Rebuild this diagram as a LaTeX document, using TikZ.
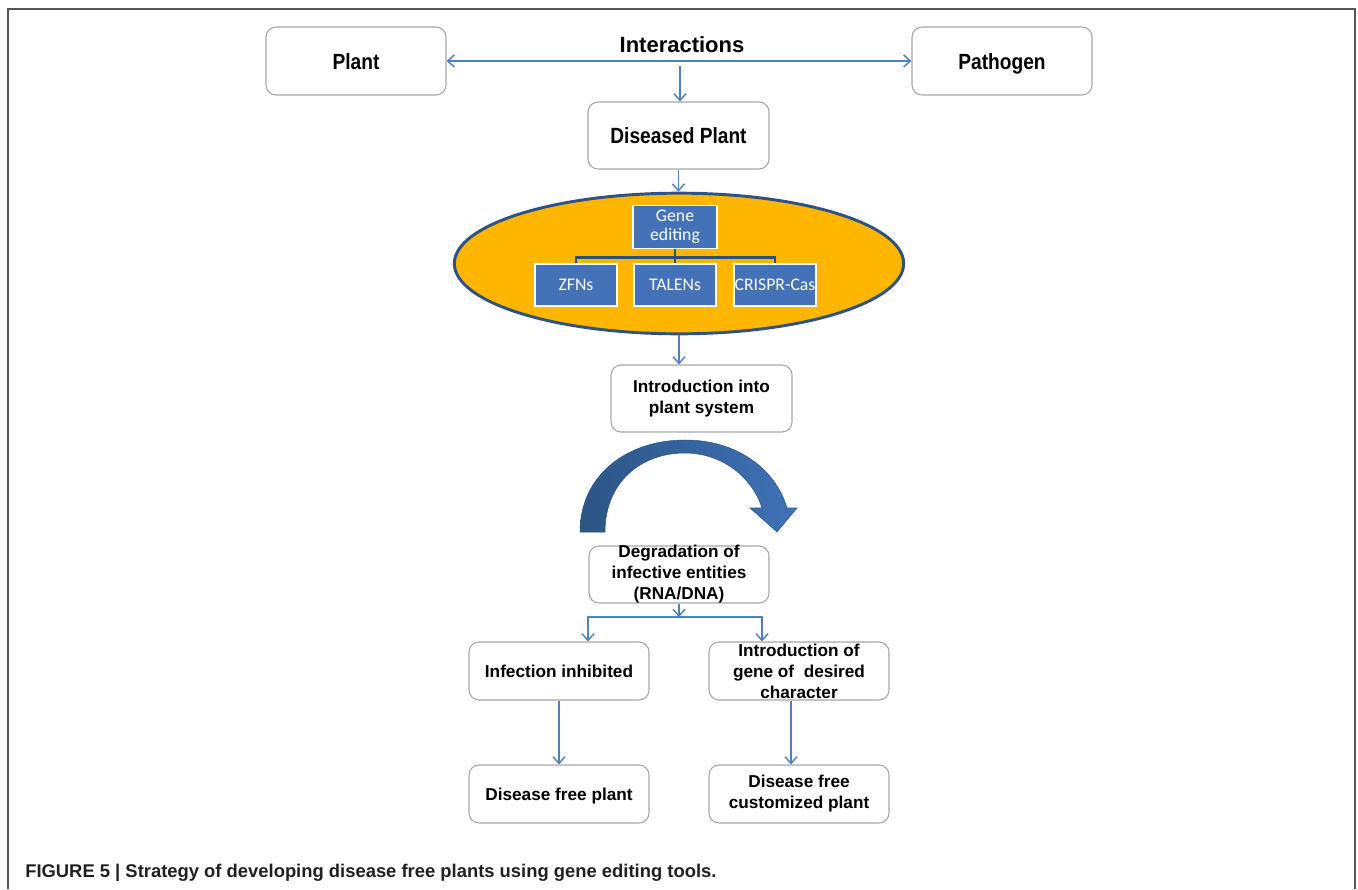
\documentclass[tikz,border=0pt]{standalone}
\usepackage{fontspec}
\setmainfont{Liberation Sans}
\newfontfamily\narrowfont[FakeStretch=0.87]{Liberation Sans}
\newfontfamily\calfont{Carlito}
\usetikzlibrary{arrows.meta,shapes.geometric}
\definecolor{conncol}{HTML}{4F81BD}
\definecolor{boxgray}{HTML}{A6A6A6}
\definecolor{ellfill}{HTML}{FFB600}
\definecolor{elldraw}{HTML}{2E5283}
\definecolor{bluebox}{HTML}{4472B8}
\definecolor{geline}{HTML}{2E4F7E}
\definecolor{arrdark}{HTML}{2C5585}
\definecolor{arrlight}{HTML}{3F72B8}
\definecolor{framecol}{HTML}{555555}
\definecolor{captxt}{HTML}{231F20}
\begin{document}
\begin{tikzpicture}[x=0.75pt,y=-0.75pt,
  box/.style={draw=boxgray, line width=0.8pt, rounded corners=7.5pt, fill=white, inner sep=0pt, align=center},
  topbox/.style={box, minimum width=135pt, minimum height=51pt, text height=14pt, text depth=2pt, font=\narrowfont\bfseries\fontsize{16.5}{20}\selectfont},
  lowtxt/.style={align=center, inner sep=0pt, font=\bfseries\fontsize{12.9}{15.75}\selectfont},
  lowbox/.style={box, minimum width=135pt, minimum height=43.5pt, lowtxt},
  gebox/.style={draw=white, line width=1.4pt, fill=bluebox, text=white, inner sep=0pt, align=center,
     minimum width=61.5pt, minimum height=31.5pt, font=\calfont\fontsize{13.3}{14}\selectfont},
  conn/.style={draw=conncol, line width=1.1pt, -{Straight Barb[length=5pt,width=9pt]}},
  dconn/.style={draw=conncol, line width=1.1pt, {Straight Barb[length=5pt,width=9pt]}-{Straight Barb[length=5pt,width=9pt]}},
  geconn/.style={draw=geline, line width=1.6pt},
  frameline/.style={draw=framecol, line width=1.5pt}
]
\useasboundingbox (0,0) rectangle (1358,889);
\draw[frameline] (8,889) -- (8,9) -- (1355,9) -- (1355,889);

% top row
\node[topbox] (plant) at (356,61) {Plant};
\node[topbox] (path) at (1002,61) {Pathogen};
\node[inner sep=0pt, font=\bfseries\fontsize{16.5}{20}\selectfont] (inter) at (682,45) {Interactions};
\draw[dconn] (plant.east) -- (path.west);
\coordinate (ij) at (680,66);

\node[topbox, minimum width=135.75pt, minimum height=50.25pt] (dis) at (678.5,135.5) {Diseased Plant};
\draw[conn] (ij) -- (ij |- dis.north);

% ellipse with gene editing tools
\node[ellipse, draw=elldraw, line width=2.2pt, fill=ellfill, minimum width=337pt, minimum height=105.5pt, inner sep=0pt] (ell) at (679,263.5) {};
\draw[conn] (dis.south) -- (dis.south |- ell.north);

\node[gebox, minimum width=63pt, minimum height=32.25pt] (ge) at (675,227) {Gene\\editing};
\node[gebox] (zfn) at (576,285) {ZFNs};
\node[gebox] (tal) at (675,285) {TALENs};
\node[gebox] (cri) at (775,285) {CRISPR-Cas};
\draw[geconn] (ge.south) -- ++(0,8) coordinate (gj);
\draw[geconn] (zfn.north) |- (gj) -| (cri.north);
\draw[geconn] (gj) -- (tal.north);

\node[box, minimum width=135.75pt, minimum height=50.25pt, lowtxt] (intro) at (701.5,398.5) {Introduction into\\plant system};
\draw[conn] (ell.south) -- (ell.south |- intro.north);

% curved arrow
\shade[left color=arrdark, right color=arrlight, draw=arrdark, line width=0.4pt]
  (580,532) .. controls (580,475) and (627,440) .. (685,440)
  .. controls (738,440) and (776,470) .. (787,508)
  -- (797,508) -- (777,532) -- (750,508) -- (762,508)
  .. controls (752,477) and (722,453) .. (685,453)
  .. controls (640,453) and (605,483) .. (605,532) -- cycle;

\node[box, minimum width=135pt, minimum height=42.75pt, label={[lowtxt]center:Degradation of\\infective entities\\(RNA/DNA)}] (deg) at (679,574.5) {};

\coordinate (split) at (679,617);
\coordinate (sL) at (588,617);
\coordinate (sR) at (762,617);

\node[lowbox] (inf) at (559,671) {Infection inhibited};
\node[box, minimum width=135pt, minimum height=43.5pt, label={[lowtxt]center:Introduction of\\gene of\ \ desired\\character}] (ig) at (799,671) {};
\node[lowbox, text height=10pt, text depth=0pt] (dfp) at (559,794) {Disease free plant};
\node[lowbox] (dfcp) at (799,794) {Disease free\\customized plant};

\draw[conn] (deg.south) -- (split);
\draw[conn] (split) -- (sL) -- (sL |- inf.north);
\draw[conn] (split) -- (sR) -- (sR |- ig.north);
\draw[conn] (inf.south) -- (dfp.north);
\draw[conn] ([xshift=-6pt]ig.south) -- ([xshift=-6pt]dfcp.north);

\node[anchor=base west, inner sep=0pt, text=captxt, font=\bfseries\fontsize{13.8}{16}\selectfont] (cap) at (25,877) {FIGURE 5 | Strategy of developing disease free plants using gene editing tools.};
\end{tikzpicture}
\end{document}
